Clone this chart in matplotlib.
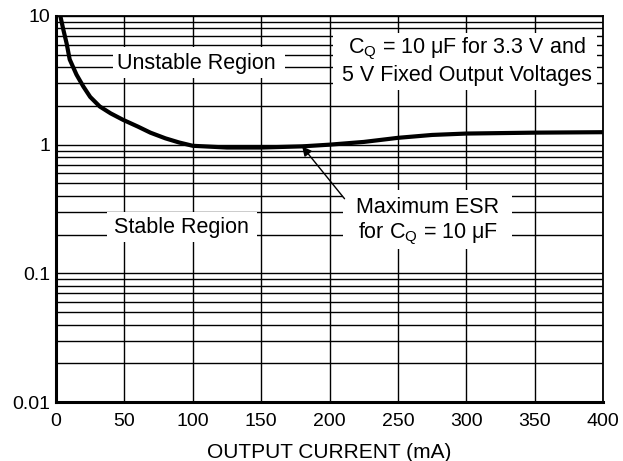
import matplotlib
matplotlib.use("Agg")
import matplotlib.pyplot as plt
from matplotlib.patches import Rectangle

plt.rcParams['font.family'] = ['Liberation Sans', 'DejaVu Sans']
plt.rcParams['mathtext.fontset'] = 'custom'
plt.rcParams['mathtext.rm'] = 'Liberation Sans'

# Data
current_ma = [3, 5.4, 7.8, 10, 15, 20, 25, 32, 40, 49, 60, 69, 80, 90, 100,
              125, 150, 180, 200, 225, 244, 250, 275, 300, 350, 400]
esr_ohm = [10.2, 7.8, 6.1, 4.6, 3.5, 2.83, 2.35, 1.98, 1.75, 1.56, 1.38, 1.24,
           1.12, 1.04, 0.98, 0.95, 0.95, 0.97, 1.0, 1.05, 1.11, 1.13, 1.19,
           1.22, 1.24, 1.25]

x_ticks = [0, 50, 100, 150, 200, 250, 300, 350, 400]
y_ticks = [0.01, 0.1, 1, 10]
y_tick_labels = ['0.01', '0.1', '1', '10']
x_label = 'OUTPUT CURRENT (mA)'

fig = plt.figure(figsize=(6.23, 4.61), dpi=100)
ax = fig.add_axes([56/623, 1-402/461, 547/623, 386/461])
ax.set_yscale('log')
ax.set_xlim(0, 400)
ax.set_ylim(0.01, 10)
ax.set_xticks(x_ticks)
ax.set_xticklabels([str(v) for v in x_ticks])
ax.set_yticks(y_ticks)
ax.set_yticklabels(y_tick_labels)
ax.yaxis.set_minor_formatter(matplotlib.ticker.NullFormatter())
ax.tick_params(axis='both', which='both', length=0, labelsize=14)
ax.tick_params(axis='x', pad=8)
ax.tick_params(axis='y', pad=4)
ax.set_xlabel(x_label, fontsize=15, labelpad=9)

ax.grid(True, which='both', color='black', linewidth=1.0)
ax.set_axisbelow(True)
for s in ['left', 'bottom']:
    ax.spines[s].set_linewidth(2.2)
for s in ['top', 'right']:
    ax.spines[s].set_linewidth(1.3)

ax.plot(current_ma, esr_ohm, color='black', linewidth=3.0, zorder=5,
        solid_capstyle='butt')

def box(x0, x1, y0, y1):
    # pixel coords in reference -> axes fraction
    fx0 = (x0 - 56) / 547
    fx1 = (x1 - 56) / 547
    fy0 = (402 - y1) / 386
    fy1 = (402 - y0) / 386
    ax.add_patch(Rectangle((fx0, fy0), fx1 - fx0, fy1 - fy0,
                           transform=ax.transAxes, facecolor='white',
                           edgecolor='none', zorder=3))

def label(cx, cy, text):
    ax.text((cx - 56) / 547, (402 - cy) / 386, text, transform=ax.transAxes,
            ha='center', va='center', fontsize=15.5, zorder=4,
            multialignment='center', linespacing=1.2)

box(113, 285, 47, 78)
label(196, 63, 'Unstable Region')
box(107, 257, 212, 242)
label(181, 227, 'Stable Region')
box(333, 597, 33, 90)
label(467, 61, 'C$_\\mathregular{Q}$ = 10 μF for 3.3 V and\n5 V Fixed Output Voltages')
box(343, 512, 190, 249)
label(428, 222, 'Maximum ESR\nfor C$_\\mathregular{Q}$ = 10 μF')

ax.annotate('', xy=(180, 0.97), xytext=(211, 0.38),
            arrowprops=dict(arrowstyle='-|>', color='black', lw=1.0,
                            mutation_scale=14, shrinkA=0, shrinkB=0),
            zorder=6)

fig.savefig('out.png', dpi=100)
